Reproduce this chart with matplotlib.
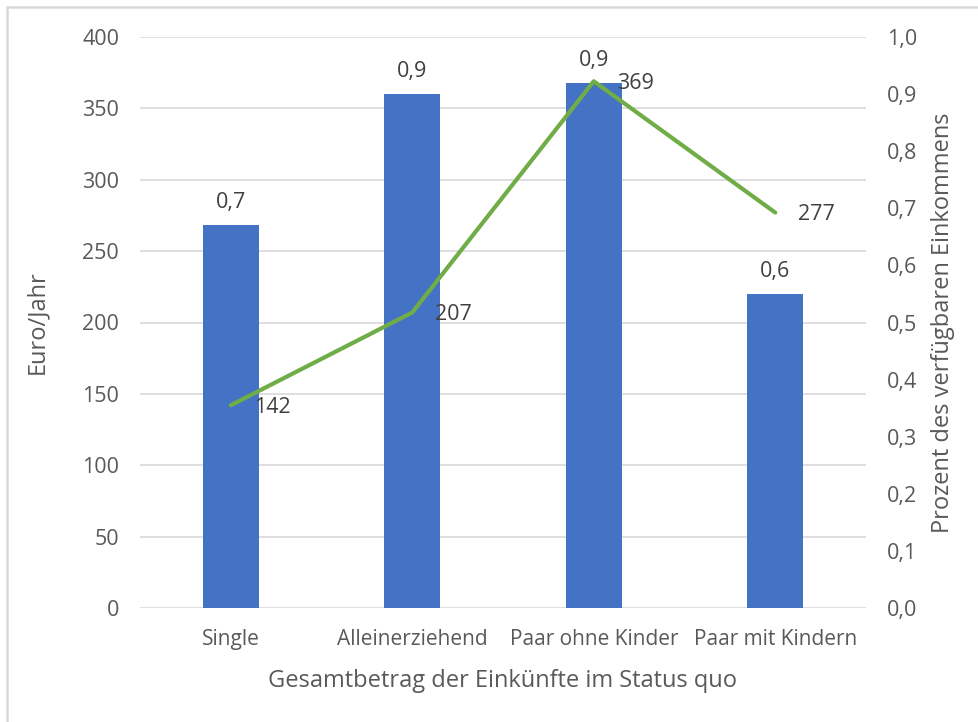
import matplotlib
matplotlib.use("Agg")
import matplotlib.pyplot as plt
from matplotlib.patches import Rectangle

# data
categories = ["Single", "Alleinerziehend", "Paar ohne Kinder", "Paar mit Kindern"]
anteil = [0.67, 0.90, 0.92, 0.55]          # bars, right axis
euro = [142, 207, 369, 277]                # line, left axis
left_ticks = [0, 50, 100, 150, 200, 250, 300, 350, 400]
right_ticks = [0.0, 0.1, 0.2, 0.3, 0.4, 0.5, 0.6, 0.7, 0.8, 0.9, 1.0]

plt.rcParams['font.family'] = ['Open Sans', 'DejaVu Sans']

grey = '#595959'
dark = '#404040'
grid_col = '#D9D9D9'

fig = plt.figure(figsize=(9.79, 7.22), dpi=100)
fig.patch.set_facecolor('white')
fig.patches.append(Rectangle((7 / 979, -0.1), 1.2, 1 - 7 / 722 + 0.1, transform=fig.transFigure,
                             fill=False, edgecolor=grid_col, lw=1.8))

ax = fig.add_axes([140 / 979, 1 - 608 / 722, (866 - 140) / 979, (608 - 37) / 722])
x = list(range(len(categories)))

ax.set_ylim(0, 400)
ax.set_xlim(-0.5, len(categories) - 0.5)
ax.set_yticks(left_ticks)
ax.yaxis.grid(True, color=grid_col, lw=1.2)
ax.set_axisbelow(True)
ax.set_xticks(x)
ax.set_xticklabels(categories)
ax.tick_params(axis='both', length=0, labelsize=15, colors=grey)
ax.tick_params(axis='y', pad=15, labelsize=15.5)
ax.tick_params(axis='x', pad=15)
for s in ax.spines.values():
    s.set_visible(False)
ax.set_ylabel("Euro/Jahr", fontsize=17, color=grey, labelpad=24)
ax.set_xlabel("Gesamtbetrag der Einkünfte im Status quo", fontsize=17, color=grey, labelpad=14)

# bars on right axis
ax2 = ax.twinx()
ax2.set_ylim(0, 1.0)
ax2.set_yticks(right_ticks)
ax2.set_yticklabels([f"{t:.1f}".replace('.', ',') for t in right_ticks])
ax2.tick_params(axis='y', length=0, labelsize=15.5, colors=grey, pad=15)
for s in ax2.spines.values():
    s.set_visible(False)
ax2.set_ylabel("Prozent des verfügbaren Einkommens", fontsize=17, color=grey, labelpad=10)
bars = ax2.bar(x, anteil, width=0.31, color='#4472C4', zorder=2)
for xi, v in zip(x, anteil):
    ax2.annotate(f"{v:.1f}".replace('.', ','), (xi, v), xytext=(0, 12), textcoords='offset pixels',
                 ha='center', va='bottom', fontsize=15.5, color=dark)

# line on left scale
ax3 = ax.twinx()
ax3.set_ylim(0, 400)
ax3.set_yticks([])
for s in ax3.spines.values():
    s.set_visible(False)
ax3.plot(x, euro, color='#70AD47', lw=3, solid_capstyle='round', solid_joinstyle='round')
for xi, v in zip(x, euro):
    ax3.annotate(str(v), (xi, v), xytext=(23, -2), textcoords='offset pixels',
                 ha='left', va='center', fontsize=15.5, color=dark)

fig.savefig("out.png", dpi=100)
